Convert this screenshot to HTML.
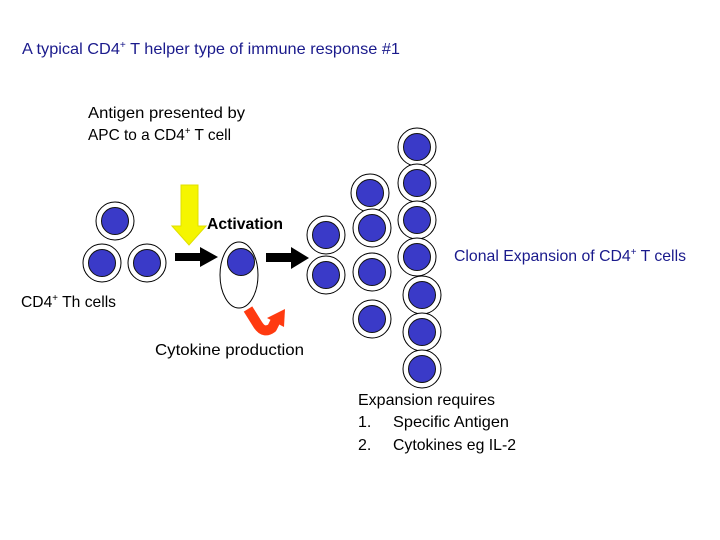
<!DOCTYPE html>
<html><head><meta charset="utf-8"><style>
html,body{margin:0;padding:0;background:#fff;width:720px;height:540px;overflow:hidden}
text{font-family:"Liberation Sans",sans-serif;font-size:16px}
</style></head><body>
<svg width="720" height="540" viewBox="0 0 720 540" xmlns="http://www.w3.org/2000/svg">
<defs>
<g id="c"><circle r="19" fill="#fff" stroke="#000" stroke-width="1"/><circle r="13.5" fill="#3a3ac8" stroke="#111" stroke-width="1"/></g>
</defs>
<text x="22" y="54" fill="#1a1a8c" textLength="378" lengthAdjust="spacingAndGlyphs">A typical CD4<tspan font-size="10" dy="-6">+</tspan><tspan dy="6"> T helper type of immune response #1</tspan></text>
<text x="88" y="118" textLength="157" lengthAdjust="spacingAndGlyphs">Antigen presented by</text>
<text x="88" y="140" textLength="143" lengthAdjust="spacingAndGlyphs">APC to a CD4<tspan font-size="10" dy="-6">+</tspan><tspan dy="6"> T cell</tspan></text>
<text x="207" y="229" font-weight="bold" textLength="76" lengthAdjust="spacingAndGlyphs">Activation</text>
<text x="454" y="261" fill="#1a1a8c" textLength="232" lengthAdjust="spacingAndGlyphs">Clonal Expansion of CD4<tspan font-size="10" dy="-6">+</tspan><tspan dy="6"> T cells</tspan></text>
<text x="21" y="307" textLength="95" lengthAdjust="spacingAndGlyphs">CD4<tspan font-size="10" dy="-6">+</tspan><tspan dy="6"> Th cells</tspan></text>
<text x="155" y="355" textLength="149" lengthAdjust="spacingAndGlyphs">Cytokine production</text>
<text x="358" y="405" textLength="137" lengthAdjust="spacingAndGlyphs">Expansion requires</text>
<text x="358" y="427">1.</text>
<text x="393" y="427" textLength="116" lengthAdjust="spacingAndGlyphs">Specific Antigen</text>
<text x="358" y="450">2.</text>
<text x="393" y="450" textLength="123" lengthAdjust="spacingAndGlyphs">Cytokines eg IL-2</text>

<polygon points="181,185 198,185 198,226 206,226 189,245 172,226 181,226" fill="#f5f500" stroke="#e0e000" stroke-width="1"/>
<polygon points="175,253 200,253 200,247 218,257 200,267 200,261 175,261" fill="#000"/>
<polygon points="266,253 291,253 291,247 309,258 291,269 291,262 266,262" fill="#000"/>
<path d="M248,309 L258,325 Q264,334 272,328 L276,320" fill="none" stroke="#ff3a10" stroke-width="10" stroke-linejoin="round"/>
<polygon points="267,318 285,309 284,327" fill="#ff3a10"/>

<use href="#c" x="115" y="221"/>
<use href="#c" x="102" y="263"/>
<use href="#c" x="147" y="263"/>
<ellipse cx="239" cy="275" rx="19" ry="33" fill="#fff" stroke="#000"/>
<circle cx="241" cy="262" r="13.5" fill="#3a3ac8" stroke="#111"/>
<use href="#c" x="326" y="235"/>
<use href="#c" x="326" y="275"/>
<use href="#c" x="370" y="193"/>
<use href="#c" x="372" y="228"/>
<use href="#c" x="372" y="272"/>
<use href="#c" x="372" y="319"/>
<use href="#c" x="417" y="147"/>
<use href="#c" x="417" y="183"/>
<use href="#c" x="417" y="220"/>
<use href="#c" x="417" y="257"/>
<use href="#c" x="422" y="295"/>
<use href="#c" x="422" y="332"/>
<use href="#c" x="422" y="369"/>
</svg>
</body></html>
